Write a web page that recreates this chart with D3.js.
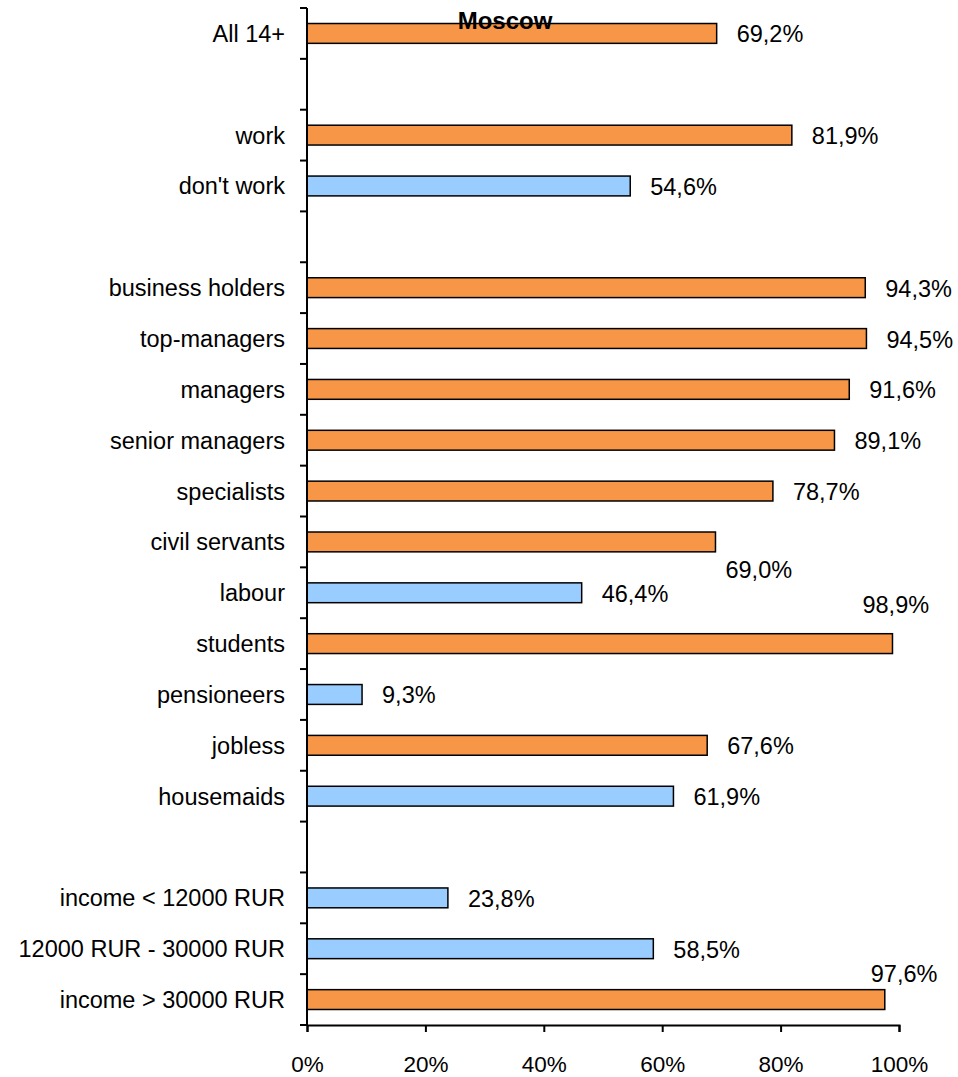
<!DOCTYPE html>
<html>
<head>
<meta charset="utf-8">
<script src="https://cdn.jsdelivr.net/npm/d3@7"></script>
<style>
	body { margin: 0; background: #fff; }
	text { font-family: "Liberation Sans", Arial, sans-serif; fill: #000; }
</style>
</head>
<body>
<svg id="chart" width="958" height="1077"></svg>
<script>
// empty strings are the gaps between groups
const categories = ["All 14+", "", "work", "don't work", "", "business holders", "top-managers",
	"managers", "senior managers", "specialists", "civil servants", "labour", "students",
	"pensioneers", "jobless", "housemaids", "", "income < 12000 RUR", "12000 RUR - 30000 RUR",
	"income > 30000 RUR"];
const values = [69.2, null, 81.9, 54.6, null, 94.3, 94.5, 91.6, 89.1, 78.7, 69.0, 46.4, 98.9,
	9.3, 67.6, 61.9, null, 23.8, 58.5, 97.6];
const groups = ["hi", null, "hi", "lo", null, "hi", "hi", "hi", "hi", "hi", "hi", "lo", "hi",
	"lo", "hi", "lo", null, "lo", "lo", "hi"];
const xTicks = [0, 20, 40, 60, 80, 100];

const colors = { hi: "#F79646", lo: "#99CCFF" };
// a few value labels were moved by hand in the original
const nudge = {
	"civil servants": [-10, 27],
	"students": [-50, -40],
	"income > 30000 RUR": [-34, -27]
};

const plotLeft = 307, plotRight = 899, plotTop = 8, plotBottom = 1025;
const svg = d3.select("#chart");

let x = d3.scaleLinear().domain([0, 100]).range([plotLeft, plotRight]);
let y = d3.scaleBand().domain(d3.range(categories.length)).range([plotTop, plotBottom]).paddingInner(0.61).paddingOuter(0.305);
let slot = d3.scaleBand().domain(d3.range(categories.length)).range([plotTop, plotBottom]);

let rows = categories.map(function(c, i) {
	return { name: c, value: values[i], group: groups[i], i: i };
});

svg.append("g")
	.selectAll("rect")
	.data(rows.filter(function(d) { return d.value != null; }))
	.enter()
	.append("rect")
	.attr("x", x(0))
	.attr("y", function(d) { return y(d.i); })
	.attr("width", function(d) { return x(d.value) - x(0); })
	.attr("height", y.bandwidth())
	.attr("fill", function(d) { return colors[d.group]; })
	.attr("stroke", "#000")
	.attr("stroke-width", 1.5);

// value labels
svg.append("g")
	.selectAll("text")
	.data(rows.filter(function(d) { return d.value != null; }))
	.enter()
	.append("text")
	.attr("x", function(d) { return x(d.value) + 20 + (nudge[d.name] ? nudge[d.name][0] : 0); })
	.attr("y", function(d) { return y(d.i) + y.bandwidth() / 2 + 9 + (nudge[d.name] ? nudge[d.name][1] : 0); })
	.attr("font-size", 23.5)
	.text(function(d) { return d.value.toFixed(1).replace(".", ",") + "%"; });

// category labels
svg.append("g")
	.selectAll("text")
	.data(rows)
	.enter()
	.append("text")
	.attr("x", plotLeft - 22)
	.attr("y", function(d) { return slot(d.i) + slot.bandwidth() / 2 + 8.5; })
	.attr("text-anchor", "end")
	.attr("font-size", 23.5)
	.text(function(d) { return d.name; });

// y axis with ticks between categories
let yAxis = svg.append("g");
yAxis.append("line")
	.attr("x1", plotLeft).attr("x2", plotLeft)
	.attr("y1", plotTop).attr("y2", plotBottom)
	.attr("stroke", "#000").attr("stroke-width", 2);
yAxis.selectAll(".tk")
	.data(d3.range(categories.length + 1))
	.enter()
	.append("line")
	.attr("x1", plotLeft - 7).attr("x2", plotLeft)
	.attr("y1", function(i) { return i < categories.length ? slot(i) : plotBottom; })
	.attr("y2", function(i) { return i < categories.length ? slot(i) : plotBottom; })
	.attr("stroke", "#000").attr("stroke-width", 2);

// x axis
let xAxis = svg.append("g")
	.attr("transform", "translate(0," + plotBottom + ")")
	.call(d3.axisBottom(x).tickValues(xTicks).tickSize(7).tickPadding(24).tickFormat(function(d) { return d + "%"; }));
xAxis.select(".domain").attr("stroke", "#000").attr("stroke-width", 2);
xAxis.selectAll(".tick line").attr("stroke", "#000").attr("stroke-width", 2);
xAxis.selectAll(".tick text")
	.attr("font-size", 22.5)
	.attr("font-family", "'Liberation Sans', Arial, sans-serif")
	.attr("fill", "#000");

// title sits over the first bar, like the original
svg.append("text")
	.attr("x", 505)
	.attr("y", 29)
	.attr("text-anchor", "middle")
	.attr("font-family", "'DejaVu Sans', Verdana, sans-serif")
	.attr("font-weight", "bold")
	.attr("font-size", 24)
	.text("Moscow");
</script>
</body>
</html>
